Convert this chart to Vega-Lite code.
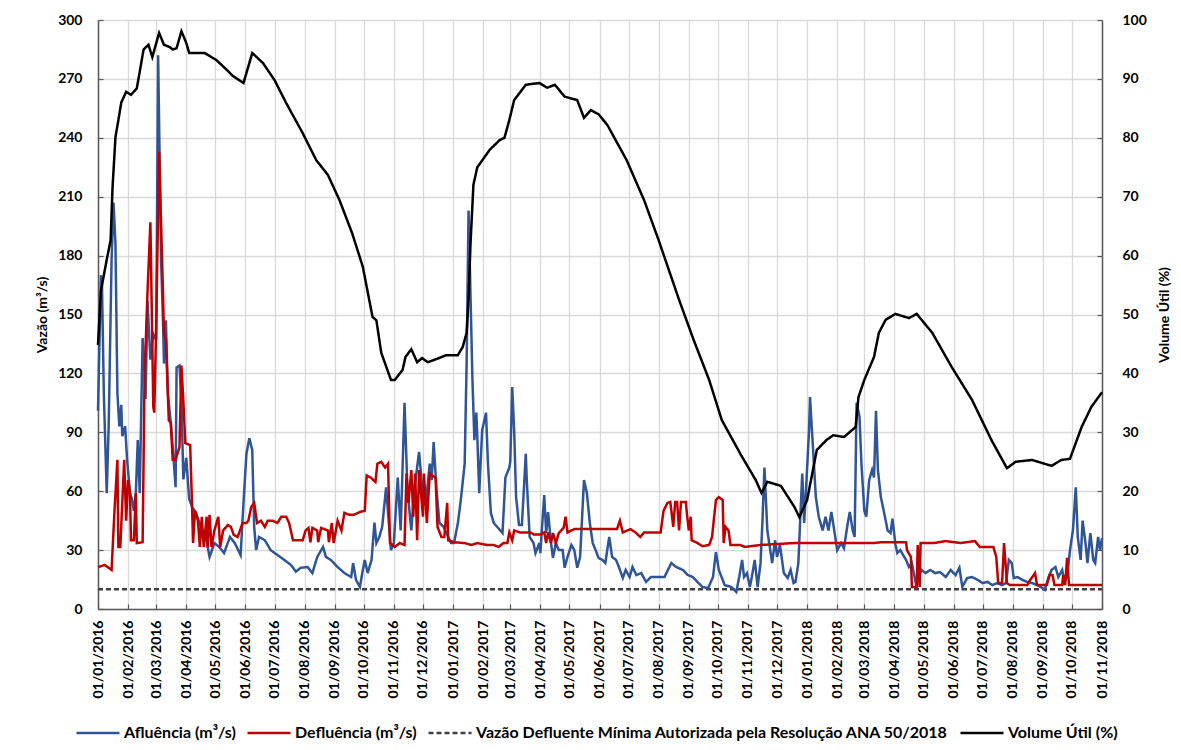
{
"$schema": "https://vega.github.io/schema/vega-lite/v6.json",
"width": 1004, "height": 589,
"autosize": {"type": "none"},
"padding": {"left": 98, "top": 20, "right": 79, "bottom": 141},
"background": "white",
"config": {
  "font": "Lato",
  "view": {"stroke": null},
  "axis": {"labelFont": "Lato", "labelFontWeight": "bold", "labelFontSize": 14, "labelColor": "#000000",
           "titleFont": "Lato", "titleFontWeight": "bold", "titleFontSize": 14, "titleColor": "#000000",
           "domainColor": "#595959", "domainWidth": 1.5, "tickColor": "#595959", "tickWidth": 1.2,
           "gridColor": "#D9D9D9", "gridWidth": 1.3},
  "legend": {"labelFont": "Lato", "labelFontWeight": "bold", "labelFontSize": 16, "labelColor": "#000000", "labelLimit": 800, "padding": 0}
},
"datasets": {
"vz": [
{"date":"2016-01-01","s":"M","v":10},{"date":"2018-11-01","s":"M","v":10},
{"date":"2016-01-01","s":"A","v":101},{"date":"2016-01-04","s":"A","v":170},{"date":"2016-01-05","s":"A","v":168},{"date":"2016-01-07","s":"A","v":110},{"date":"2016-01-10","s":"A","v":59},{"date":"2016-01-12","s":"A","v":93},{"date":"2016-01-15","s":"A","v":178},{"date":"2016-01-17","s":"A","v":207},{"date":"2016-01-19","s":"A","v":186},{"date":"2016-01-21","s":"A","v":110},{"date":"2016-01-23","s":"A","v":93},{"date":"2016-01-25","s":"A","v":104},{"date":"2016-01-26","s":"A","v":88},{"date":"2016-01-29","s":"A","v":93},{"date":"2016-01-31","s":"A","v":76},
{"date":"2016-02-03","s":"A","v":59},{"date":"2016-02-05","s":"A","v":56},{"date":"2016-02-07","s":"A","v":50},{"date":"2016-02-09","s":"A","v":59},{"date":"2016-02-11","s":"A","v":86},{"date":"2016-02-13","s":"A","v":59},{"date":"2016-02-16","s":"A","v":138},{"date":"2016-02-18","s":"A","v":123},{"date":"2016-02-19","s":"A","v":107},{"date":"2016-02-21","s":"A","v":157},{"date":"2016-02-24","s":"A","v":127},{"date":"2016-02-27","s":"A","v":140},
{"date":"2016-03-01","s":"A","v":137},{"date":"2016-03-03","s":"A","v":282},{"date":"2016-03-06","s":"A","v":178},{"date":"2016-03-08","s":"A","v":147},{"date":"2016-03-09","s":"A","v":125},{"date":"2016-03-11","s":"A","v":147},{"date":"2016-03-13","s":"A","v":110},{"date":"2016-03-16","s":"A","v":95},{"date":"2016-03-19","s":"A","v":76},{"date":"2016-03-21","s":"A","v":62},{"date":"2016-03-22","s":"A","v":123},{"date":"2016-03-25","s":"A","v":124},{"date":"2016-03-27","s":"A","v":106},{"date":"2016-03-29","s":"A","v":66},
{"date":"2016-04-01","s":"A","v":77},{"date":"2016-04-04","s":"A","v":56},{"date":"2016-04-07","s":"A","v":52},{"date":"2016-04-11","s":"A","v":49},{"date":"2016-04-16","s":"A","v":42},{"date":"2016-04-21","s":"A","v":37},{"date":"2016-04-25","s":"A","v":26.5},{"date":"2016-04-30","s":"A","v":33.6},
{"date":"2016-05-05","s":"A","v":31.6},{"date":"2016-05-10","s":"A","v":28.5},{"date":"2016-05-16","s":"A","v":36.7},{"date":"2016-05-21","s":"A","v":33.6},{"date":"2016-05-27","s":"A","v":27.5},{"date":"2016-05-30","s":"A","v":54},
{"date":"2016-06-02","s":"A","v":79},{"date":"2016-06-05","s":"A","v":87},{"date":"2016-06-08","s":"A","v":81},{"date":"2016-06-10","s":"A","v":42},{"date":"2016-06-12","s":"A","v":30},{"date":"2016-06-15","s":"A","v":36.7},{"date":"2016-06-21","s":"A","v":35},{"date":"2016-06-27","s":"A","v":30},
{"date":"2016-07-04","s":"A","v":27.5},{"date":"2016-07-11","s":"A","v":25},{"date":"2016-07-18","s":"A","v":22.4},{"date":"2016-07-23","s":"A","v":19},{"date":"2016-07-28","s":"A","v":21},
{"date":"2016-08-04","s":"A","v":21.4},{"date":"2016-08-09","s":"A","v":18.3},{"date":"2016-08-14","s":"A","v":26.5},{"date":"2016-08-20","s":"A","v":31.6},{"date":"2016-08-23","s":"A","v":26.5},{"date":"2016-08-28","s":"A","v":25},
{"date":"2016-09-04","s":"A","v":21.4},{"date":"2016-09-11","s":"A","v":18.3},{"date":"2016-09-18","s":"A","v":16.3},{"date":"2016-09-20","s":"A","v":23.4},{"date":"2016-09-23","s":"A","v":14.8},{"date":"2016-09-27","s":"A","v":11.2},{"date":"2016-09-30","s":"A","v":19.9},
{"date":"2016-10-02","s":"A","v":25},{"date":"2016-10-05","s":"A","v":18.3},{"date":"2016-10-09","s":"A","v":25},{"date":"2016-10-12","s":"A","v":44},{"date":"2016-10-14","s":"A","v":33.6},{"date":"2016-10-17","s":"A","v":36.7},{"date":"2016-10-20","s":"A","v":42},{"date":"2016-10-24","s":"A","v":62},{"date":"2016-10-26","s":"A","v":49},{"date":"2016-10-29","s":"A","v":30},
{"date":"2016-11-01","s":"A","v":33.6},{"date":"2016-11-05","s":"A","v":67},{"date":"2016-11-08","s":"A","v":40},{"date":"2016-11-12","s":"A","v":105},{"date":"2016-11-15","s":"A","v":60.6},{"date":"2016-11-19","s":"A","v":40},{"date":"2016-11-22","s":"A","v":60.6},{"date":"2016-11-27","s":"A","v":80},
{"date":"2016-12-01","s":"A","v":57},{"date":"2016-12-04","s":"A","v":54},{"date":"2016-12-08","s":"A","v":74},{"date":"2016-12-10","s":"A","v":65.7},{"date":"2016-12-12","s":"A","v":85},{"date":"2016-12-15","s":"A","v":60.6},{"date":"2016-12-18","s":"A","v":43.8},{"date":"2016-12-22","s":"A","v":42},{"date":"2016-12-27","s":"A","v":36.7},{"date":"2016-12-30","s":"A","v":33.6},
{"date":"2017-01-02","s":"A","v":33.6},{"date":"2017-01-06","s":"A","v":43.8},{"date":"2017-01-09","s":"A","v":55.5},{"date":"2017-01-13","s":"A","v":74},{"date":"2017-01-15","s":"A","v":125},{"date":"2017-01-17","s":"A","v":203},{"date":"2017-01-21","s":"A","v":117},{"date":"2017-01-23","s":"A","v":86},{"date":"2017-01-25","s":"A","v":100},{"date":"2017-01-26","s":"A","v":88},{"date":"2017-01-28","s":"A","v":59},{"date":"2017-01-31","s":"A","v":91},
{"date":"2017-02-04","s":"A","v":100},{"date":"2017-02-06","s":"A","v":74},{"date":"2017-02-09","s":"A","v":49},{"date":"2017-02-12","s":"A","v":43.8},{"date":"2017-02-17","s":"A","v":41},{"date":"2017-02-21","s":"A","v":38.7},{"date":"2017-02-24","s":"A","v":67},{"date":"2017-02-28","s":"A","v":72},
{"date":"2017-03-01","s":"A","v":75},{"date":"2017-03-03","s":"A","v":113},{"date":"2017-03-05","s":"A","v":91},{"date":"2017-03-07","s":"A","v":57},{"date":"2017-03-10","s":"A","v":42.8},{"date":"2017-03-13","s":"A","v":42.8},{"date":"2017-03-17","s":"A","v":79},{"date":"2017-03-18","s":"A","v":65.7},{"date":"2017-03-21","s":"A","v":36.7},{"date":"2017-03-25","s":"A","v":33.6},{"date":"2017-03-27","s":"A","v":28.5},{"date":"2017-03-31","s":"A","v":33.6},
{"date":"2017-04-01","s":"A","v":28.5},{"date":"2017-04-05","s":"A","v":58},{"date":"2017-04-07","s":"A","v":38.7},{"date":"2017-04-09","s":"A","v":49.4},{"date":"2017-04-12","s":"A","v":33.6},{"date":"2017-04-14","s":"A","v":26},{"date":"2017-04-17","s":"A","v":33.6},{"date":"2017-04-20","s":"A","v":30},{"date":"2017-04-24","s":"A","v":30},{"date":"2017-04-26","s":"A","v":21},{"date":"2017-04-29","s":"A","v":26.5},
{"date":"2017-05-03","s":"A","v":32.6},{"date":"2017-05-06","s":"A","v":30},{"date":"2017-05-09","s":"A","v":21},{"date":"2017-05-12","s":"A","v":26.5},{"date":"2017-05-16","s":"A","v":65.7},{"date":"2017-05-19","s":"A","v":59},{"date":"2017-05-22","s":"A","v":43.8},{"date":"2017-05-25","s":"A","v":33.6},{"date":"2017-05-28","s":"A","v":30},{"date":"2017-05-31","s":"A","v":26},
{"date":"2017-06-04","s":"A","v":25},{"date":"2017-06-07","s":"A","v":23.4},{"date":"2017-06-11","s":"A","v":36.7},{"date":"2017-06-14","s":"A","v":26.5},{"date":"2017-06-18","s":"A","v":25},{"date":"2017-06-21","s":"A","v":21.4},{"date":"2017-06-25","s":"A","v":15.8},{"date":"2017-06-28","s":"A","v":19.9},
{"date":"2017-07-02","s":"A","v":16.3},{"date":"2017-07-05","s":"A","v":21.4},{"date":"2017-07-09","s":"A","v":17.3},{"date":"2017-07-14","s":"A","v":18.3},{"date":"2017-07-19","s":"A","v":13.8},{"date":"2017-07-24","s":"A","v":16.3},{"date":"2017-07-31","s":"A","v":16.3},
{"date":"2017-08-07","s":"A","v":16.3},{"date":"2017-08-14","s":"A","v":23.4},{"date":"2017-08-19","s":"A","v":21.4},{"date":"2017-08-26","s":"A","v":19.9},{"date":"2017-08-31","s":"A","v":17.3},
{"date":"2017-09-05","s":"A","v":16.3},{"date":"2017-09-10","s":"A","v":13.8},{"date":"2017-09-15","s":"A","v":11.2},{"date":"2017-09-21","s":"A","v":10.7},{"date":"2017-09-26","s":"A","v":16.3},{"date":"2017-09-29","s":"A","v":29},
{"date":"2017-10-02","s":"A","v":19.9},{"date":"2017-10-08","s":"A","v":12.2},{"date":"2017-10-15","s":"A","v":11.2},{"date":"2017-10-20","s":"A","v":8.7},{"date":"2017-10-23","s":"A","v":16.3},{"date":"2017-10-26","s":"A","v":25},{"date":"2017-10-28","s":"A","v":16.3},{"date":"2017-10-31","s":"A","v":18.3},
{"date":"2017-11-03","s":"A","v":11.2},{"date":"2017-11-05","s":"A","v":16.3},{"date":"2017-11-08","s":"A","v":25},{"date":"2017-11-11","s":"A","v":11.2},{"date":"2017-11-14","s":"A","v":23.4},{"date":"2017-11-16","s":"A","v":45},{"date":"2017-11-18","s":"A","v":72},{"date":"2017-11-21","s":"A","v":40},{"date":"2017-11-24","s":"A","v":30},{"date":"2017-11-26","s":"A","v":23.4},{"date":"2017-11-29","s":"A","v":35},
{"date":"2017-12-01","s":"A","v":26.5},{"date":"2017-12-04","s":"A","v":32.6},{"date":"2017-12-08","s":"A","v":18.3},{"date":"2017-12-12","s":"A","v":15.8},{"date":"2017-12-15","s":"A","v":19.9},{"date":"2017-12-18","s":"A","v":13.2},{"date":"2017-12-20","s":"A","v":13.8},{"date":"2017-12-23","s":"A","v":23.4},{"date":"2017-12-25","s":"A","v":47},{"date":"2017-12-27","s":"A","v":69},{"date":"2017-12-29","s":"A","v":43.8},{"date":"2017-12-31","s":"A","v":62},
{"date":"2018-01-03","s":"A","v":91},{"date":"2018-01-04","s":"A","v":108},{"date":"2018-01-07","s":"A","v":82.5},{"date":"2018-01-10","s":"A","v":57},{"date":"2018-01-13","s":"A","v":47},{"date":"2018-01-17","s":"A","v":40},{"date":"2018-01-20","s":"A","v":47},{"date":"2018-01-23","s":"A","v":40},{"date":"2018-01-26","s":"A","v":49.4},{"date":"2018-01-29","s":"A","v":40},
{"date":"2018-02-01","s":"A","v":30},{"date":"2018-02-05","s":"A","v":33.6},{"date":"2018-02-08","s":"A","v":31},{"date":"2018-02-12","s":"A","v":44},{"date":"2018-02-14","s":"A","v":49.4},{"date":"2018-02-17","s":"A","v":40},{"date":"2018-02-19","s":"A","v":36.7},{"date":"2018-02-21","s":"A","v":105},{"date":"2018-02-24","s":"A","v":98},{"date":"2018-02-26","s":"A","v":74},
{"date":"2018-03-01","s":"A","v":50},{"date":"2018-03-03","s":"A","v":47},{"date":"2018-03-06","s":"A","v":65.7},{"date":"2018-03-09","s":"A","v":70.8},{"date":"2018-03-11","s":"A","v":67},{"date":"2018-03-13","s":"A","v":101},{"date":"2018-03-15","s":"A","v":70.8},{"date":"2018-03-18","s":"A","v":57},{"date":"2018-03-21","s":"A","v":50},{"date":"2018-03-25","s":"A","v":40},{"date":"2018-03-28","s":"A","v":38.7},{"date":"2018-03-30","s":"A","v":46},
{"date":"2018-04-02","s":"A","v":33},{"date":"2018-04-04","s":"A","v":28.5},{"date":"2018-04-07","s":"A","v":30},{"date":"2018-04-13","s":"A","v":25},{"date":"2018-04-16","s":"A","v":21.4},{"date":"2018-04-19","s":"A","v":23.4},{"date":"2018-04-23","s":"A","v":13.2},{"date":"2018-04-26","s":"A","v":16.3},{"date":"2018-04-29","s":"A","v":19.9},
{"date":"2018-05-03","s":"A","v":18.3},{"date":"2018-05-08","s":"A","v":19.9},{"date":"2018-05-13","s":"A","v":18.3},{"date":"2018-05-18","s":"A","v":18.8},{"date":"2018-05-24","s":"A","v":16.3},{"date":"2018-05-29","s":"A","v":19.9},
{"date":"2018-06-03","s":"A","v":17.3},{"date":"2018-06-07","s":"A","v":21},{"date":"2018-06-10","s":"A","v":11.2},{"date":"2018-06-15","s":"A","v":15.8},{"date":"2018-06-20","s":"A","v":16.3},{"date":"2018-06-26","s":"A","v":14.8},
{"date":"2018-07-01","s":"A","v":13.2},{"date":"2018-07-06","s":"A","v":13.8},{"date":"2018-07-11","s":"A","v":12.2},{"date":"2018-07-16","s":"A","v":13.2},{"date":"2018-07-21","s":"A","v":12.2},{"date":"2018-07-25","s":"A","v":13.2},{"date":"2018-07-28","s":"A","v":25},{"date":"2018-07-31","s":"A","v":23.4},
{"date":"2018-08-02","s":"A","v":15.8},{"date":"2018-08-06","s":"A","v":16.3},{"date":"2018-08-11","s":"A","v":14.8},{"date":"2018-08-16","s":"A","v":13.8},{"date":"2018-08-21","s":"A","v":13.2},{"date":"2018-08-26","s":"A","v":12.2},{"date":"2018-08-30","s":"A","v":11.2},
{"date":"2018-09-03","s":"A","v":9.7},{"date":"2018-09-07","s":"A","v":16.3},{"date":"2018-09-10","s":"A","v":19.9},{"date":"2018-09-14","s":"A","v":21.4},{"date":"2018-09-17","s":"A","v":16.3},{"date":"2018-09-21","s":"A","v":19.9},{"date":"2018-09-23","s":"A","v":13.8},{"date":"2018-09-26","s":"A","v":16.3},{"date":"2018-09-29","s":"A","v":30},
{"date":"2018-10-02","s":"A","v":40},{"date":"2018-10-05","s":"A","v":62},{"date":"2018-10-07","s":"A","v":36.7},{"date":"2018-10-10","s":"A","v":25},{"date":"2018-10-12","s":"A","v":45},{"date":"2018-10-15","s":"A","v":33.6},{"date":"2018-10-17","s":"A","v":23.4},{"date":"2018-10-20","s":"A","v":38.7},{"date":"2018-10-23","s":"A","v":25},{"date":"2018-10-25","s":"A","v":23.4},{"date":"2018-10-28","s":"A","v":36.7},{"date":"2018-10-30","s":"A","v":30},{"date":"2018-11-01","s":"A","v":36},
{"date":"2016-01-01","s":"D","v":21.4},{"date":"2016-01-08","s":"D","v":22.4},{"date":"2016-01-15","s":"D","v":19.9},{"date":"2016-01-18","s":"D","v":50},{"date":"2016-01-21","s":"D","v":76},{"date":"2016-01-22","s":"D","v":31.6},{"date":"2016-01-24","s":"D","v":31.6},{"date":"2016-01-28","s":"D","v":76},{"date":"2016-01-30","s":"D","v":45},
{"date":"2016-02-01","s":"D","v":65.7},{"date":"2016-02-03","s":"D","v":59},{"date":"2016-02-04","s":"D","v":35},{"date":"2016-02-07","s":"D","v":35},{"date":"2016-02-09","s":"D","v":59},{"date":"2016-02-10","s":"D","v":33.6},{"date":"2016-02-16","s":"D","v":34},{"date":"2016-02-18","s":"D","v":118},{"date":"2016-02-21","s":"D","v":161},{"date":"2016-02-24","s":"D","v":197},{"date":"2016-02-27","s":"D","v":103},{"date":"2016-02-28","s":"D","v":100},
{"date":"2016-03-01","s":"D","v":144},{"date":"2016-03-04","s":"D","v":233},{"date":"2016-03-08","s":"D","v":161},{"date":"2016-03-09","s":"D","v":140.5},{"date":"2016-03-11","s":"D","v":137},{"date":"2016-03-14","s":"D","v":96},{"date":"2016-03-16","s":"D","v":95},{"date":"2016-03-18","s":"D","v":76},{"date":"2016-03-21","s":"D","v":76},{"date":"2016-03-25","s":"D","v":82.5},{"date":"2016-03-27","s":"D","v":124},{"date":"2016-03-29","s":"D","v":106},{"date":"2016-03-31","s":"D","v":84.5},
{"date":"2016-04-05","s":"D","v":83.5},{"date":"2016-04-07","s":"D","v":52},{"date":"2016-04-08","s":"D","v":33.6},{"date":"2016-04-10","s":"D","v":50},{"date":"2016-04-13","s":"D","v":45},{"date":"2016-04-15","s":"D","v":31.6},{"date":"2016-04-17","s":"D","v":47},{"date":"2016-04-19","s":"D","v":31.6},{"date":"2016-04-22","s":"D","v":47},{"date":"2016-04-23","s":"D","v":31.6},{"date":"2016-04-25","s":"D","v":48},{"date":"2016-04-27","s":"D","v":31.6},{"date":"2016-04-30","s":"D","v":40},
{"date":"2016-05-04","s":"D","v":47},{"date":"2016-05-06","s":"D","v":31.6},{"date":"2016-05-09","s":"D","v":40},{"date":"2016-05-14","s":"D","v":42.8},{"date":"2016-05-17","s":"D","v":41.8},{"date":"2016-05-20","s":"D","v":37.7},{"date":"2016-05-24","s":"D","v":36.7},{"date":"2016-05-29","s":"D","v":43.8},
{"date":"2016-06-02","s":"D","v":43.8},{"date":"2016-06-04","s":"D","v":45},{"date":"2016-06-07","s":"D","v":52},{"date":"2016-06-10","s":"D","v":54},{"date":"2016-06-13","s":"D","v":43.8},{"date":"2016-06-17","s":"D","v":45},{"date":"2016-06-21","s":"D","v":41.8},{"date":"2016-06-24","s":"D","v":45},{"date":"2016-06-29","s":"D","v":45},
{"date":"2016-07-04","s":"D","v":43.8},{"date":"2016-07-08","s":"D","v":47},{"date":"2016-07-13","s":"D","v":47},{"date":"2016-07-16","s":"D","v":43.8},{"date":"2016-07-20","s":"D","v":35},{"date":"2016-07-30","s":"D","v":35},
{"date":"2016-08-02","s":"D","v":40},{"date":"2016-08-05","s":"D","v":41.3},{"date":"2016-08-07","s":"D","v":34},{"date":"2016-08-09","s":"D","v":41.3},{"date":"2016-08-14","s":"D","v":40},{"date":"2016-08-15","s":"D","v":34},{"date":"2016-08-18","s":"D","v":41.3},{"date":"2016-08-25","s":"D","v":40},{"date":"2016-08-26","s":"D","v":34},{"date":"2016-08-29","s":"D","v":43.8},{"date":"2016-08-31","s":"D","v":33.6},
{"date":"2016-09-04","s":"D","v":45},{"date":"2016-09-08","s":"D","v":40},{"date":"2016-09-11","s":"D","v":49},{"date":"2016-09-16","s":"D","v":48},{"date":"2016-09-21","s":"D","v":48},{"date":"2016-09-27","s":"D","v":49.4},
{"date":"2016-10-02","s":"D","v":50},{"date":"2016-10-04","s":"D","v":68},{"date":"2016-10-08","s":"D","v":67},{"date":"2016-10-13","s":"D","v":64.7},{"date":"2016-10-15","s":"D","v":74},{"date":"2016-10-19","s":"D","v":75},{"date":"2016-10-23","s":"D","v":72},{"date":"2016-10-26","s":"D","v":74},{"date":"2016-10-28","s":"D","v":33.6},
{"date":"2016-11-02","s":"D","v":31.6},{"date":"2016-11-07","s":"D","v":33.6},{"date":"2016-11-12","s":"D","v":32.6},{"date":"2016-11-14","s":"D","v":69},{"date":"2016-11-16","s":"D","v":54},{"date":"2016-11-19","s":"D","v":70.8},{"date":"2016-11-21","s":"D","v":47},{"date":"2016-11-23","s":"D","v":69},{"date":"2016-11-25","s":"D","v":35},{"date":"2016-11-27","s":"D","v":70.8},
{"date":"2016-12-01","s":"D","v":47},{"date":"2016-12-02","s":"D","v":69},{"date":"2016-12-05","s":"D","v":43.8},{"date":"2016-12-08","s":"D","v":69},{"date":"2016-12-14","s":"D","v":66.7},{"date":"2016-12-16","s":"D","v":41.8},{"date":"2016-12-20","s":"D","v":36.7},{"date":"2016-12-23","s":"D","v":36.7},{"date":"2016-12-26","s":"D","v":54},{"date":"2016-12-27","s":"D","v":35},
{"date":"2017-01-02","s":"D","v":34},{"date":"2017-01-13","s":"D","v":33.6},{"date":"2017-01-20","s":"D","v":32.6},{"date":"2017-01-26","s":"D","v":33.6},{"date":"2017-02-05","s":"D","v":32.6},{"date":"2017-02-12","s":"D","v":32.6},{"date":"2017-02-17","s":"D","v":31.6},{"date":"2017-02-22","s":"D","v":33.6},{"date":"2017-02-26","s":"D","v":33.6},{"date":"2017-02-28","s":"D","v":39},
{"date":"2017-03-03","s":"D","v":35},{"date":"2017-03-05","s":"D","v":40},{"date":"2017-03-11","s":"D","v":39},{"date":"2017-03-22","s":"D","v":39},{"date":"2017-03-25","s":"D","v":38},{"date":"2017-04-01","s":"D","v":38},{"date":"2017-04-05","s":"D","v":39},{"date":"2017-04-07","s":"D","v":33.6},{"date":"2017-04-09","s":"D","v":39},{"date":"2017-04-12","s":"D","v":33.6},{"date":"2017-04-14","s":"D","v":38.7},{"date":"2017-04-17","s":"D","v":33.6},{"date":"2017-04-20","s":"D","v":38.7},{"date":"2017-04-25","s":"D","v":41.3},{"date":"2017-04-27","s":"D","v":47},{"date":"2017-04-29","s":"D","v":39},
{"date":"2017-05-06","s":"D","v":40.7},{"date":"2017-06-19","s":"D","v":40.7},{"date":"2017-06-22","s":"D","v":45},{"date":"2017-06-25","s":"D","v":39},{"date":"2017-07-03","s":"D","v":40.7},{"date":"2017-07-08","s":"D","v":39},{"date":"2017-07-13","s":"D","v":36.7},{"date":"2017-07-17","s":"D","v":39},
{"date":"2017-08-03","s":"D","v":39},{"date":"2017-08-06","s":"D","v":50},{"date":"2017-08-10","s":"D","v":54},{"date":"2017-08-13","s":"D","v":54.5},{"date":"2017-08-16","s":"D","v":41.8},{"date":"2017-08-18","s":"D","v":54.5},{"date":"2017-08-20","s":"D","v":54.5},{"date":"2017-08-22","s":"D","v":40},{"date":"2017-08-24","s":"D","v":54.5},{"date":"2017-08-29","s":"D","v":54.5},{"date":"2017-08-30","s":"D","v":49},
{"date":"2017-09-01","s":"D","v":40},{"date":"2017-09-03","s":"D","v":47},{"date":"2017-09-04","s":"D","v":35},{"date":"2017-09-10","s":"D","v":33.6},{"date":"2017-09-15","s":"D","v":32},{"date":"2017-09-22","s":"D","v":32.6},{"date":"2017-09-25","s":"D","v":36.7},{"date":"2017-09-29","s":"D","v":55.5},
{"date":"2017-10-02","s":"D","v":57},{"date":"2017-10-06","s":"D","v":55.5},{"date":"2017-10-07","s":"D","v":33.6},{"date":"2017-10-09","s":"D","v":41.8},{"date":"2017-10-12","s":"D","v":40},{"date":"2017-10-14","s":"D","v":32.6},{"date":"2017-10-24","s":"D","v":32.6},{"date":"2017-10-29","s":"D","v":31.6},{"date":"2017-11-14","s":"D","v":32.6},{"date":"2017-12-19","s":"D","v":33.6},
{"date":"2018-01-21","s":"D","v":33.6},{"date":"2018-03-11","s":"D","v":33.6},{"date":"2018-03-18","s":"D","v":34},{"date":"2018-04-13","s":"D","v":34},{"date":"2018-04-14","s":"D","v":30},{"date":"2018-04-18","s":"D","v":26.5},{"date":"2018-04-19","s":"D","v":11.2},{"date":"2018-04-24","s":"D","v":11.2},{"date":"2018-04-25","s":"D","v":32.6},{"date":"2018-04-27","s":"D","v":11.2},{"date":"2018-04-28","s":"D","v":33.6},
{"date":"2018-05-12","s":"D","v":33.6},{"date":"2018-05-24","s":"D","v":34.6},{"date":"2018-06-08","s":"D","v":33.6},{"date":"2018-06-23","s":"D","v":34.6},{"date":"2018-06-28","s":"D","v":31.6},{"date":"2018-07-12","s":"D","v":31.6},{"date":"2018-07-15","s":"D","v":26.5},{"date":"2018-07-17","s":"D","v":13.2},{"date":"2018-07-21","s":"D","v":13.2},{"date":"2018-07-23","s":"D","v":33.6},{"date":"2018-07-26","s":"D","v":13.2},{"date":"2018-07-29","s":"D","v":12.2},
{"date":"2018-08-16","s":"D","v":12.2},{"date":"2018-08-19","s":"D","v":14.8},{"date":"2018-08-24","s":"D","v":18.3},{"date":"2018-08-26","s":"D","v":12.2},{"date":"2018-09-05","s":"D","v":12.2},{"date":"2018-09-08","s":"D","v":17.3},{"date":"2018-09-11","s":"D","v":17.3},{"date":"2018-09-13","s":"D","v":12.2},{"date":"2018-09-21","s":"D","v":12.2},{"date":"2018-09-22","s":"D","v":17.3},{"date":"2018-09-24","s":"D","v":12.2},{"date":"2018-09-26","s":"D","v":26},{"date":"2018-09-28","s":"D","v":12.2},{"date":"2018-11-01","s":"D","v":12.2}
],
"vol": [
{"date":"2016-01-01","s":"V","v":44.8},{"date":"2016-01-04","s":"V","v":54},{"date":"2016-01-10","s":"V","v":59.3},{"date":"2016-01-14","s":"V","v":62.6},{"date":"2016-01-16","s":"V","v":71.6},{"date":"2016-01-19","s":"V","v":80.1},{"date":"2016-01-22","s":"V","v":83},{"date":"2016-01-25","s":"V","v":86},{"date":"2016-01-30","s":"V","v":87.8},
{"date":"2016-02-04","s":"V","v":87.3},{"date":"2016-02-10","s":"V","v":88.4},{"date":"2016-02-13","s":"V","v":91.2},{"date":"2016-02-17","s":"V","v":95},{"date":"2016-02-22","s":"V","v":95.8},{"date":"2016-02-26","s":"V","v":93.7},
{"date":"2016-03-04","s":"V","v":97.8},{"date":"2016-03-09","s":"V","v":95.8},{"date":"2016-03-15","s":"V","v":95.4},{"date":"2016-03-18","s":"V","v":95},{"date":"2016-03-22","s":"V","v":95.2},{"date":"2016-03-27","s":"V","v":98.1},
{"date":"2016-04-01","s":"V","v":96.1},{"date":"2016-04-04","s":"V","v":94.4},{"date":"2016-04-20","s":"V","v":94.4},{"date":"2016-05-02","s":"V","v":93.2},{"date":"2016-05-13","s":"V","v":91.5},{"date":"2016-05-19","s":"V","v":90.5},{"date":"2016-05-30","s":"V","v":89.3},
{"date":"2016-06-08","s":"V","v":94.4},{"date":"2016-06-19","s":"V","v":92.7},{"date":"2016-07-01","s":"V","v":89.8},{"date":"2016-07-13","s":"V","v":85.9},{"date":"2016-07-30","s":"V","v":80.8},{"date":"2016-08-13","s":"V","v":76.2},{"date":"2016-08-25","s":"V","v":73.7},
{"date":"2016-09-06","s":"V","v":69.4},{"date":"2016-09-19","s":"V","v":63.8},{"date":"2016-09-30","s":"V","v":58.1},{"date":"2016-10-10","s":"V","v":49.6},{"date":"2016-10-14","s":"V","v":49},{"date":"2016-10-19","s":"V","v":43.5},{"date":"2016-10-29","s":"V","v":38.9},
{"date":"2016-11-02","s":"V","v":38.9},{"date":"2016-11-10","s":"V","v":40.6},{"date":"2016-11-13","s":"V","v":42.8},{"date":"2016-11-19","s":"V","v":44.1},{"date":"2016-11-25","s":"V","v":41.9},{"date":"2016-11-30","s":"V","v":42.6},
{"date":"2016-12-06","s":"V","v":41.9},{"date":"2016-12-16","s":"V","v":42.5},{"date":"2016-12-25","s":"V","v":43.1},{"date":"2017-01-06","s":"V","v":43.1},{"date":"2017-01-11","s":"V","v":44.5},{"date":"2017-01-15","s":"V","v":46.9},{"date":"2017-01-17","s":"V","v":52.5},{"date":"2017-01-19","s":"V","v":62},{"date":"2017-01-22","s":"V","v":72},{"date":"2017-01-26","s":"V","v":75},
{"date":"2017-02-08","s":"V","v":78},{"date":"2017-02-18","s":"V","v":79.6},{"date":"2017-02-23","s":"V","v":80},{"date":"2017-02-28","s":"V","v":83},{"date":"2017-03-05","s":"V","v":86.4},{"date":"2017-03-17","s":"V","v":89},{"date":"2017-03-31","s":"V","v":89.3},
{"date":"2017-04-08","s":"V","v":88.5},{"date":"2017-04-16","s":"V","v":89},{"date":"2017-04-26","s":"V","v":87},{"date":"2017-05-09","s":"V","v":86.4},{"date":"2017-05-16","s":"V","v":83.4},{"date":"2017-05-23","s":"V","v":84.7},{"date":"2017-05-31","s":"V","v":84},{"date":"2017-06-09","s":"V","v":82.2},{"date":"2017-06-29","s":"V","v":76.2},
{"date":"2017-07-17","s":"V","v":69.4},{"date":"2017-08-01","s":"V","v":62.6},{"date":"2017-08-22","s":"V","v":52.5},{"date":"2017-09-06","s":"V","v":45.7},{"date":"2017-09-22","s":"V","v":38.9},{"date":"2017-10-05","s":"V","v":32.1},{"date":"2017-10-25","s":"V","v":26.1},
{"date":"2017-11-09","s":"V","v":21.9},{"date":"2017-11-15","s":"V","v":19.7},{"date":"2017-11-21","s":"V","v":21.6},{"date":"2017-12-05","s":"V","v":20.9},{"date":"2017-12-19","s":"V","v":17.3},{"date":"2017-12-24","s":"V","v":15.6},
{"date":"2018-01-01","s":"V","v":18.5},{"date":"2018-01-11","s":"V","v":27},{"date":"2018-01-21","s":"V","v":28.7},{"date":"2018-01-28","s":"V","v":29.5},{"date":"2018-02-08","s":"V","v":29.2},{"date":"2018-02-20","s":"V","v":30.9},{"date":"2018-02-23","s":"V","v":36},
{"date":"2018-03-01","s":"V","v":38.9},{"date":"2018-03-11","s":"V","v":42.8},{"date":"2018-03-16","s":"V","v":46.9},{"date":"2018-03-23","s":"V","v":49.1},{"date":"2018-04-02","s":"V","v":50.1},{"date":"2018-04-16","s":"V","v":49.4},{"date":"2018-04-24","s":"V","v":50.1},
{"date":"2018-05-10","s":"V","v":46.9},{"date":"2018-05-30","s":"V","v":41.1},{"date":"2018-06-20","s":"V","v":35.5},{"date":"2018-07-10","s":"V","v":28.7},{"date":"2018-07-26","s":"V","v":23.9},{"date":"2018-08-04","s":"V","v":25},{"date":"2018-08-21","s":"V","v":25.3},
{"date":"2018-09-10","s":"V","v":24.3},{"date":"2018-09-20","s":"V","v":25.3},{"date":"2018-09-29","s":"V","v":25.5},{"date":"2018-10-11","s":"V","v":30.9},{"date":"2018-10-21","s":"V","v":34.3},{"date":"2018-11-01","s":"V","v":36.8}
]
},
"encoding": {
  "x": {"field": "date", "type": "temporal",
        "scale": {"type": "utc", "domain": [{"year": 2016, "month": 1, "date": 1, "utc": true}, {"year": 2018, "month": 11, "date": 1, "utc": true}], "nice": false},
        "axis": {"title": null, "format": "%d/%m/%Y", "tickCount": {"interval": "month", "step": 1},
                 "labelAngle": 270, "labelAlign": "right", "labelBaseline": "middle", "tickSize": -5, "labelPadding": 16,
                 "grid": true, "labelOverlap": false, "labelFlush": false}},
  "color": {"field": "s", "type": "nominal",
            "scale": {"domain": ["A", "D", "M", "V"], "range": ["#2F5597", "#C00000", "#404040", "#000000"]},
            "legend": {"title": null, "orient": "none", "legendX": -23, "legendY": 690, "direction": "horizontal",
                       "symbolType": "stroke", "symbolSize": 1849, "symbolStrokeWidth": 2.5, "labelOffset": 3, "columnPadding": 6,
                       "labelExpr": "datum.label == 'A' ? 'Afluência (m³/s)' : datum.label == 'D' ? 'Defluência (m³/s)' : datum.label == 'M' ? 'Vazão Defluente Mínima Autorizada pela Resolução ANA 50/2018' : 'Volume Útil (%)'"}},
  "strokeDash": {"field": "s", "type": "nominal",
            "scale": {"domain": ["A", "D", "M", "V"], "range": [[1, 0], [1, 0], [5, 3], [1, 0]]},
            "legend": {"title": null, "orient": "none", "legendX": -23, "legendY": 690, "direction": "horizontal",
                       "symbolType": "stroke", "symbolSize": 1849, "symbolStrokeWidth": 2.5, "labelOffset": 3, "columnPadding": 6,
                       "labelExpr": "datum.label == 'A' ? 'Afluência (m³/s)' : datum.label == 'D' ? 'Defluência (m³/s)' : datum.label == 'M' ? 'Vazão Defluente Mínima Autorizada pela Resolução ANA 50/2018' : 'Volume Útil (%)'"}}
},
"layer": [
  {"data": {"name": "vz"},
   "mark": {"type": "line", "strokeWidth": 2.5},
   "encoding": {
     "y": {"field": "v", "type": "quantitative", "scale": {"domain": [0, 300], "nice": false},
           "axis": {"title": "Vazão (m³/s)", "values": [0, 30, 60, 90, 120, 150, 180, 210, 240, 270, 300], "grid": true,
                    "tickSize": -5, "labelPadding": 21, "titleAngle": 270, "titleX": -56, "titleY": 294.5, "titleAlign": "center", "titleBaseline": "middle"}}
   }},
  {"data": {"name": "vol"},
   "mark": {"type": "line", "strokeWidth": 2.5},
   "encoding": {
     "y": {"field": "v", "type": "quantitative", "scale": {"domain": [0, 100], "nice": false},
           "axis": {"orient": "right", "title": "Volume Útil (%)", "values": [0, 10, 20, 30, 40, 50, 60, 70, 80, 90, 100], "grid": false,
                    "tickSize": -5, "labelPadding": 25, "titleAngle": 270, "titleX": 62, "titleY": 294.5, "titleAlign": "center", "titleBaseline": "middle"}}
   }}
],
"resolve": {"scale": {"y": "independent"}}
}
